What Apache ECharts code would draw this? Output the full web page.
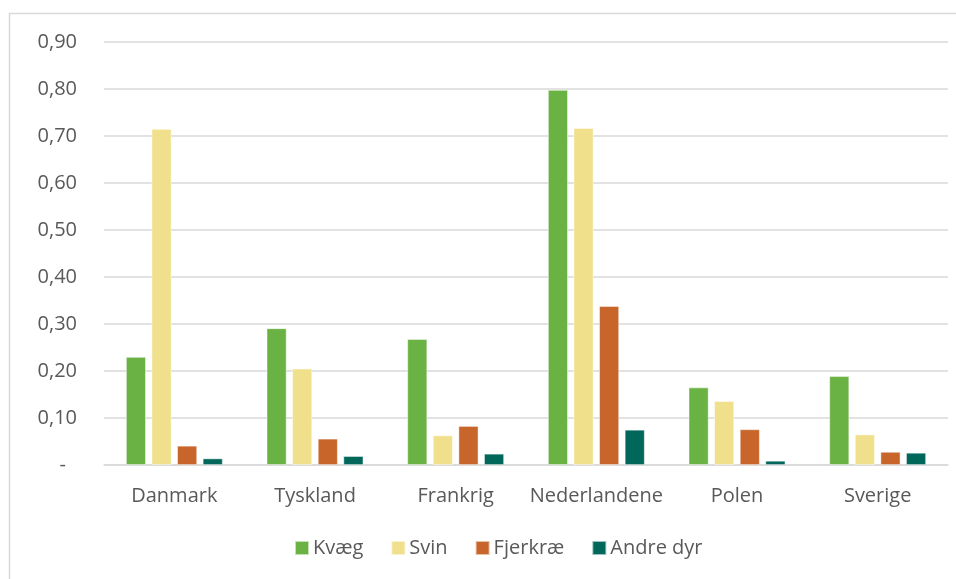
<!DOCTYPE html>
<html><head><meta charset="utf-8">
<script src="https://cdn.jsdelivr.net/npm/echarts@6/dist/echarts.min.js"></script>
<style>html,body{margin:0;padding:0;background:#fff}#c{width:956px;height:579px}</style>
</head><body><div id="c"></div>
<script>
const categories = ['Danmark','Tyskland','Frankrig','Nederlandene','Polen','Sverige'];
const seriesNames = ['Kvæg','Svin','Fjerkræ','Andre dyr'];
const kvaeg = [0.230,0.291,0.268,0.798,0.165,0.189];
const svin = [0.715,0.205,0.063,0.717,0.136,0.065];
const fjerkrae = [0.041,0.056,0.083,0.338,0.076,0.028];
const andre = [0.014,0.019,0.024,0.075,0.009,0.026];
const colors = ['#6bb244','#f0e08b','#c8652a','#00675a'];
const font = '"Open Sans", "Noto Sans", sans-serif';
const data = [kvaeg, svin, fjerkrae, andre];
const chart = echarts.init(document.getElementById('c'));
chart.setOption({
  animation:false,
  textStyle:{fontFamily:font},
  graphic:[
    {type:'line',shape:{x1:9,y1:13.5,x2:956,y2:13.5},style:{stroke:'#d9d9d9',lineWidth:1.5}},
    {type:'line',shape:{x1:9.5,y1:13,x2:9.5,y2:579},style:{stroke:'#d9d9d9',lineWidth:1.5}}
  ],
  grid:{left:104,right:8,top:42,bottom:114,containLabel:false},
  legend:{bottom:16,left:289,itemWidth:14,itemHeight:14,itemGap:27,icon:'rect',
    textStyle:{fontSize:20,color:'#595959',fontFamily:font,padding:[0,0,0,-1]}},
  xAxis:{type:'category',data:categories,
    axisLine:{lineStyle:{color:'#d9d9d9',width:1.5}},axisTick:{show:false},
    axisLabel:{fontSize:20,color:'#595959',margin:21,interval:0,fontFamily:font}},
  yAxis:{type:'value',min:0,max:0.9,interval:0.1,
    axisLine:{show:false},axisTick:{show:false},
    splitLine:{lineStyle:{color:'#d9d9d9',width:1.5}},
    axisLabel:{fontSize:20,color:'#595959',margin:27,fontFamily:font,
      formatter:v=>v===0?'{z|-}':v.toFixed(2).replace('.',','),
      rich:{z:{fontSize:20,color:'#595959',padding:[0,11,0,0]}}}},
  series:seriesNames.map((n,i)=>({name:n,type:'bar',data:data[i],
    barWidth:20,barGap:'28%',
    itemStyle:{color:colors[i],borderColor:'rgba(255,255,255,0.6)',borderWidth:0.8}}))
});
</script></body></html>
